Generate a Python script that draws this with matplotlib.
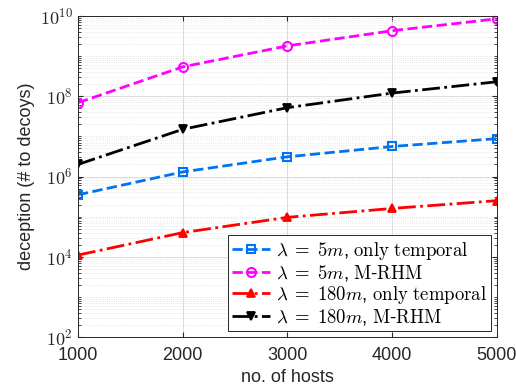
import matplotlib
matplotlib.use("Agg")
import matplotlib.pyplot as plt
from matplotlib.ticker import LogLocator, NullFormatter

plt.rcParams['font.family'] = ['Liberation Sans', 'DejaVu Sans']
plt.rcParams['mathtext.fontset'] = 'cm'

# --- data ---
hosts = [1000, 2000, 3000, 4000, 5000]
temporal_5m = [3.5e5, 1.3e6, 3.1e6, 5.6e6, 8.8e6]
rhm_5m = [6.9e7, 5.4e8, 1.8e9, 4.3e9, 8.5e9]
temporal_180m = [1.1e4, 4.0e4, 9.6e4, 1.6e5, 2.5e5]
rhm_180m = [2.0e6, 1.5e7, 5.2e7, 1.2e8, 2.3e8]

labels = [r'$\lambda\;=\;5m$, $\mathrm{only\ temporal}$',
          r'$\lambda\;=\;5m$, $\mathrm{M}$-$\mathrm{RHM}$',
          r'$\lambda\;=\;180m$, $\mathrm{only\ temporal}$',
          r'$\lambda\;=\;180m$, $\mathrm{M}$-$\mathrm{RHM}$']

fig = plt.figure(figsize=(5.16, 3.9), dpi=100)
ax = fig.add_axes([78 / 516, 1 - 337 / 390, 419 / 516, 321 / 390])

ax.plot(hosts, temporal_5m, '--s', color=(0.0, 0.45, 0.95), lw=2, ms=5.5,
        mfc='none', mew=1.5, label=labels[0])
ax.plot(hosts, rhm_5m, '--o', color=(1.0, 0.0, 1.0), lw=2, ms=6.5,
        mfc='none', mew=1.5, label=labels[1])
ax.plot(hosts, temporal_180m, '-.^', color='red', lw=2, ms=6,
        mew=1.3, label=labels[2])
ax.plot(hosts, rhm_180m, '-.v', color='black', lw=2, ms=6,
        mew=1.3, label=labels[3])

ax.set_yscale('log')
ax.set_xlim(1000, 5000)
ax.set_ylim(1e2, 1e10)
ax.set_xticks(hosts)
ax.set_yticks([1e2, 1e4, 1e6, 1e8, 1e10])
ax.yaxis.set_minor_locator(LogLocator(base=10, subs=range(1, 10), numticks=20))
ax.yaxis.set_minor_formatter(NullFormatter())
ax.set_yticklabels([r'$\mathsf{10^{%d}}$' % e for e in [2, 4, 6, 8, 10]])

ax.grid(True, which='major', color='#dcdcdc', lw=0.7)
ax.grid(True, which='minor', axis='y', color='#e0e0e0', lw=0.6, ls=':')
ax.set_axisbelow(True)
ax.tick_params(which='both', direction='in', top=True, right=True,
               labelsize=13, colors='#262626')
ax.tick_params(axis='x', pad=7)
for s in ax.spines.values():
    s.set_color('#262626')
    s.set_linewidth(0.7)

ax.set_xlabel('no. of hosts', fontsize=13, color='#262626', labelpad=4)
ax.set_ylabel('deception (# to decoys)', fontsize=13, color='#262626')

leg = ax.legend(loc='lower right', fontsize=13.5, handlelength=2.0,
                borderaxespad=0.3, labelspacing=0.05, handletextpad=0.3,
                fancybox=False, framealpha=1, edgecolor='#262626',
                borderpad=0.25)
leg.get_frame().set_linewidth(0.7)

fig.savefig('out.png', dpi=100)
